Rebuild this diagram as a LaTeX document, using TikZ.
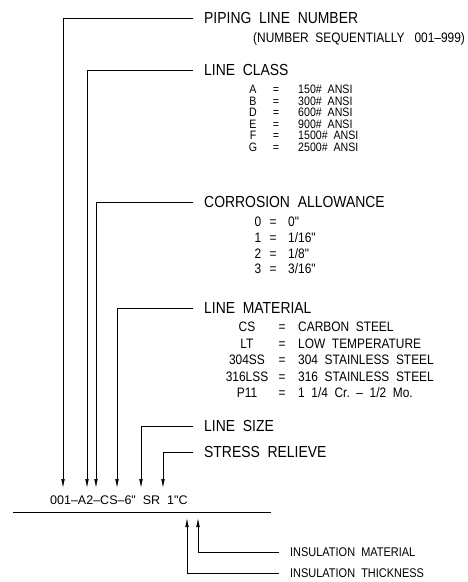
\documentclass[tikz,border=0pt]{standalone}
\usepackage{fontspec}
\setmainfont{Liberation Sans}[Ligatures=TeXOff]
\newfontfamily\narrowfont{Liberation Sans}[FakeStretch=0.87,Ligatures=TeXOff]
\usetikzlibrary{arrows.meta}
\begin{document}
\begin{tikzpicture}[x=1pt,y=-1pt,
  ttl/.style={anchor=west,inner sep=0pt,font=\narrowfont\fontsize{16}{18}\selectfont,text height=11.5pt,text depth=0pt},
  ent/.style={inner sep=0pt,font=\narrowfont\fontsize{13.7}{15}\selectfont,text height=9.8pt,text depth=0pt},
  cls/.style={inner sep=0pt,font=\narrowfont\fontsize{12.2}{13}\selectfont,text height=8.7pt,text depth=0pt},
  ins/.style={anchor=west,inner sep=0pt,font=\narrowfont\fontsize{12.6}{14}\selectfont,text height=9pt,text depth=0pt},
  lead/.style={line width=0.7pt,-{Latex[length=9pt,width=3.6pt]}},
  plain/.style={line width=0.7pt}]
\useasboundingbox (0,0) rectangle (468,582);
% titles
\node[ttl] (n1) at (204,18) {PIPING\ \ LINE\ \ NUMBER};
\node[ent,anchor=west] (n1a) at (253,38) {(NUMBER\ \ SEQUENTIALLY\ \ \ 001–999)};
\node[ttl] (n2) at (204,70) {LINE\ \ CLASS};
\node[ttl] (n3) at (204,202) {CORROSION\ \ ALLOWANCE};
\node[ttl] (n4) at (204,308) {LINE\ \ MATERIAL};
\node[ttl] (n5) at (204,426) {LINE\ \ SIZE};
\node[ttl] (n6) at (204,452) {STRESS\ \ RELIEVE};
% line class entries
\foreach \k/\v/\y [count=\i] in {A/150/89.5,B/300/101,D/600/112.5,E/900/124,F/1500/135.5,G/2500/147}{
  \node[cls] (ck\i) at (253,\y) {\k};
  \node[cls] (ce\i) at (276,\y) {=};
  \node[cls,anchor=west] (cv\i) at (298,\y) {\v\#\ \ ANSI};
}
% corrosion entries
\foreach \k/\v/\y [count=\i] in {0/0"/222,1/1\slash 16"/237.7,2/1\slash 8"/253.3,3/3\slash 16"/269}{
  \node[ent] (rk\i) at (258,\y) {\k};
  \node[ent] (re\i) at (273,\y) {=};
  \node[ent,anchor=west] (rv\i) at (288,\y) {\v};
}
% material entries
\foreach \k/\v/\y [count=\i] in {CS/CARBON\ \ STEEL/327,LT/LOW\ \ TEMPERATURE/343.5,304SS/304\ \ STAINLESS\ \ STEEL/360,316LSS/316\ \ STAINLESS\ \ STEEL/376.5,P11/1\ \ 1\slash 4\ \ Cr.\ \ –\ \ 1\slash 2\ \ Mo./393}{
  \node[ent] (mk\i) at (247,\y) {\k};
  \node[ent] (me\i) at (282,\y) {=};
  \node[ent,anchor=west] (mv\i) at (298,\y) {\v};
}
% tag and pipe line
\node[inner sep=0pt,anchor=west,font=\fontsize{12.5}{14}\selectfont,text height=9pt,text depth=0pt] (tag) at (50,500) {001–A2–CS–6"\ \ SR\ \ 1"C};
\coordinate (pl) at (13,512);
\coordinate (pr) at (271,512);
\draw[plain] (pl) -- (pr);
% arrow tips
\coordinate (t1) at (63,488);
\coordinate (t2) at (87,488);
\coordinate (t3) at (96,488);
\coordinate (t4) at (117,488);
\coordinate (t5) at (141,488);
\coordinate (t6) at (163,488);
\coordinate (u1) at (198,518);
\coordinate (u2) at (187,518);
\draw[lead] ([xshift=-11pt]n1.west) -| (t1);
\draw[lead] ([xshift=-11pt]n2.west) -| (t2);
\draw[lead] ([xshift=-11pt]n3.west) -| (t3);
\draw[lead] ([xshift=-11pt]n4.west) -| (t4);
\draw[lead] ([xshift=-11pt]n5.west) -| (t5);
\draw[lead] ([xshift=-11pt]n6.west) -| (t6);
% insulation
\node[ins] (i1) at (290,552) {INSULATION\ \ MATERIAL};
\node[ins] (i2) at (290,573) {INSULATION\ \ THICKNESS};
\draw[lead] ([xshift=-11pt]i1.west) -| (u1);
\draw[lead] ([xshift=-11pt]i2.west) -| (u2);
\end{tikzpicture}
\end{document}
